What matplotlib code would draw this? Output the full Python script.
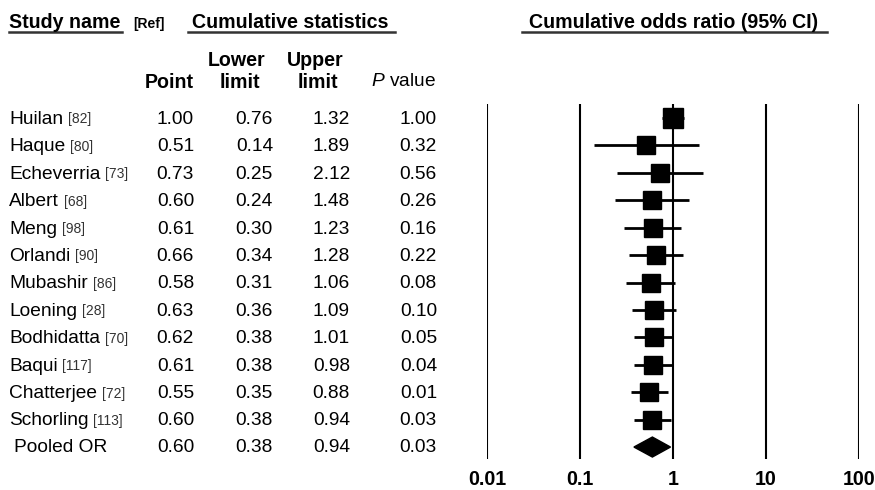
import numpy as np
import matplotlib
matplotlib.use("Agg")
from matplotlib import pyplot as plt
from matplotlib.lines import Line2D
from matplotlib.transforms import blended_transform_factory

plt.rcParams['font.family'] = ['Liberation Sans', 'DejaVu Sans']
plt.rcParams['mathtext.fontset'] = 'custom'
plt.rcParams['mathtext.it'] = 'Liberation Sans:italic'
plt.rcParams['mathtext.rm'] = 'Liberation Sans'

# study data (cumulative)
names = ["Huilan", "Haque", "Echeverria", "Albert", "Meng", "Orlandi",
         "Mubashir", "Loening", "Bodhidatta", "Baqui", "Chatterjee", "Schorling"]
refs = ["[82]", "[80]", "[73]", "[68]", "[98]", "[90]",
        "[86]", "[28]", "[70]", "[117]", "[72]", "[113]"]
point = [1.00, 0.51, 0.73, 0.60, 0.61, 0.66, 0.58, 0.63, 0.62, 0.61, 0.55, 0.60]
lower = [0.76, 0.14, 0.25, 0.24, 0.30, 0.34, 0.31, 0.36, 0.38, 0.38, 0.35, 0.38]
upper = [1.32, 1.89, 2.12, 1.48, 1.23, 1.28, 1.06, 1.09, 1.01, 0.98, 0.88, 0.94]
pval = [1.00, 0.32, 0.56, 0.26, 0.16, 0.22, 0.08, 0.10, 0.05, 0.04, 0.01, 0.03]

pooled_label = "Pooled OR"
pooled = [0.60, 0.38, 0.94, 0.03]   # point, lower, upper, p

ticks = [0.01, 0.1, 1, 10, 100]
tick_labels = ["0.01", "0.1", "1", "10", "100"]

W, H = 875, 490
def fx(px):
    return px / W
def fy(py):
    return 1 - py / H

fig = plt.figure(figsize=(W / 100, H / 100), dpi=100)
fs = 13.8    # body text
hfs = 14.1   # bold headers

# forest plot axes
top_px, bot_px = 104, 459
row0_px, step_px = 118, 27.42
ax = fig.add_axes([fx(487), fy(bot_px), fx(859) - fx(487), (bot_px - top_px) / H])
ax.set_xscale('log')
ax.set_xlim(0.01, 100)
ax.set_ylim((bot_px - row0_px) / step_px, (top_px - row0_px) / step_px)
ax.patch.set_visible(False)
for s in ax.spines.values():
    s.set_visible(False)
ax.set_yticks([])
ax.set_xticks(ticks)
ax.set_xticklabels(tick_labels, fontweight='bold', fontsize=hfs)
ax.xaxis.set_minor_locator(matplotlib.ticker.NullLocator())
ax.tick_params(axis='x', length=0, pad=8)

for t in ticks:
    ax.axvline(t, color='black', lw=1.5, zorder=1)

rows = np.arange(len(names))
for i in rows:
    ax.plot([lower[i], upper[i]], [i, i], color='black', lw=2, zorder=2,
            solid_capstyle='butt')
    ms = 14.5 if i == 0 else 13.3
    ax.plot(point[i], i, marker='s', ms=ms, color='black', zorder=3)

# pooled diamond
pr = len(names)
dh = 10 / step_px
ax.fill([pooled[1], pooled[0], pooled[2], pooled[0]],
        [pr, pr - dh, pr, pr + dh], color='black', zorder=3)

# table text
trans = blended_transform_factory(fig.transFigure, ax.transData)
col_right = [194, 273, 350, 437]
for i in rows:
    nt = fig.text(fx(9), i + 0.05, names[i], transform=trans, ha='left', va='center', fontsize=fs)
    ax.annotate(refs[i], xy=(1, 0.5), xycoords=nt, xytext=(3.5, 0),
                textcoords='offset points', ha='left', va='center',
                fontsize=10, color='#333333', annotation_clip=False)
    for c, v in zip(col_right, [point[i], lower[i], upper[i], pval[i]]):
        fig.text(fx(c), i + 0.05, f"{v:.2f}", transform=trans, ha='right', va='center', fontsize=fs)

fig.text(fx(14), pr, pooled_label, transform=trans, ha='left', va='center', fontsize=fs)
for c, v in zip(col_right, pooled):
    fig.text(fx(c), pr, f"{v:.2f}", transform=trans, ha='right', va='center', fontsize=fs)

# headers
fig.text(fx(9), fy(23), "Study name", ha='left', va='center', fontsize=hfs, fontweight='bold')
fig.text(fx(133), fy(24), "[Ref]", ha='left', va='center', fontsize=10, fontweight='bold')
fig.text(fx(290.5), fy(23), "Cumulative statistics", ha='center', va='center', fontsize=hfs, fontweight='bold')
fig.text(fx(673.5), fy(23), "Cumulative odds ratio (95% CI)", ha='center', va='center', fontsize=hfs, fontweight='bold')

for x0, x1 in [(9, 122), (188, 395), (522, 827)]:
    fig.add_artist(Line2D([fx(x0), fx(x1)], [fy(32.5), fy(32.5)], transform=fig.transFigure,
                          color='#333333', lw=1.8))

fig.text(fx(194), fy(82), "Point", ha='right', va='center', fontsize=hfs, fontweight='bold')
fig.text(fx(237), fy(60), "Lower", ha='center', va='center', fontsize=hfs, fontweight='bold')
fig.text(fx(240), fy(82), "limit", ha='center', va='center', fontsize=hfs, fontweight='bold')
fig.text(fx(315), fy(60), "Upper", ha='center', va='center', fontsize=hfs, fontweight='bold')
fig.text(fx(318), fy(82), "limit", ha='center', va='center', fontsize=hfs, fontweight='bold')
fig.text(fx(436), fy(82), "$P$ value", ha='right', va='center', fontsize=fs)

fig.savefig("out.png", dpi=100, facecolor='white')
